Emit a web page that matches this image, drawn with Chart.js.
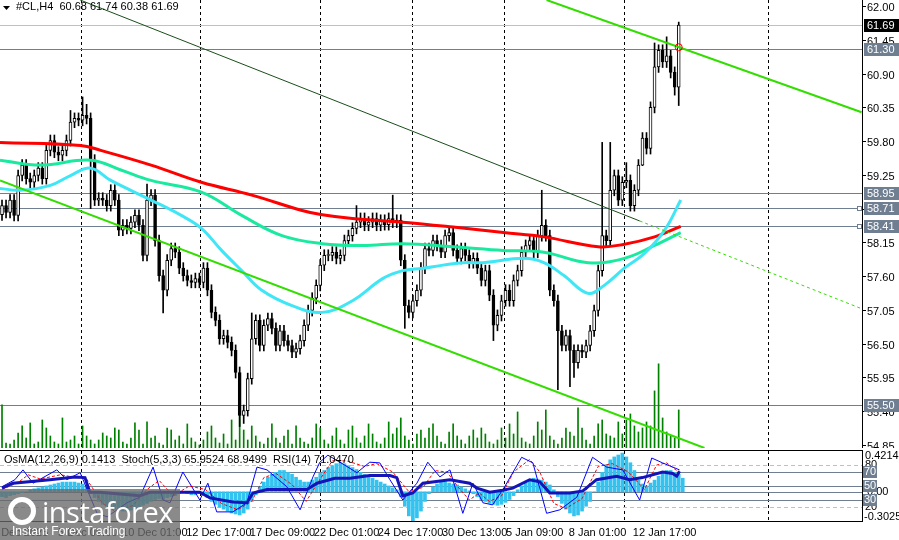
<!DOCTYPE html>
<html>
<head>
<meta charset="utf-8">
<script src="https://cdn.jsdelivr.net/npm/chart.js@4.4.1/dist/chart.umd.min.js"></script>
<style>
  body { margin: 0; background: #fff; width: 899px; height: 540px; overflow: hidden; position: relative; font-family: "Liberation Sans", sans-serif; }
  #mainWrap { position: absolute; left: 0; top: 0; width: 899px; height: 448px; }
  #subWrap { position: absolute; left: 0; top: 449px; width: 899px; height: 91px; }
  #logo { position: absolute; left: 0; top: 489px; width: 180px; height: 51px; background: rgba(105,105,105,0.78); color: #fff; }
  #logo .big { position: absolute; left: 42px; top: 3px; font-size: 29px; letter-spacing: -0.5px; font-family: "Open Sans", sans-serif; }
  #logo .small { position: absolute; left: 12px; top: 35px; font-size: 12px; }
  #logo .gear { position: absolute; left: 8px; top: 8px; width: 28px; height: 28px; border-radius: 50%; border: 5px solid #fff; box-sizing: border-box; }
</style>
</head>
<body>
<div id="mainWrap"><canvas id="mainChart"></canvas></div>
<div id="subWrap"><canvas id="subChart"></canvas></div>
<div id="logo"><div class="gear"></div><div class="big">instaforex</div><div class="small">Instant Forex Trading</div></div>
<script>
// ---- data ----
const firstOpen = 58.60;
const closes = [58.75,58.64,58.84,58.59,59.24,59.41,59.19,59.13,59.24,59.36,59.19,59.65,59.81,59.62,59.57,59.65,59.81,60.11,60.17,60.14,60.22,60.17,59.49,58.84,58.87,58.84,58.75,59.00,58.84,58.35,58.43,58.38,58.48,58.59,58.43,57.94,58.84,58.92,58.18,57.61,57.37,57.86,58.05,57.99,57.73,57.61,57.53,57.50,57.56,57.50,57.73,57.37,57.01,56.88,56.58,56.63,56.52,56.39,56.03,55.33,55.41,55.93,56.58,56.88,56.47,56.80,56.91,56.75,56.47,56.71,56.55,56.47,56.36,56.42,56.55,56.80,57.04,57.24,57.45,57.78,57.94,57.94,57.99,57.89,57.94,58.18,58.26,58.38,58.48,58.54,58.43,58.48,58.54,58.43,58.51,58.44,58.54,58.48,58.51,57.86,57.12,57.01,57.20,57.37,57.73,58.05,58.02,58.18,58.10,57.99,58.26,58.31,58.02,57.89,58.05,57.94,57.82,57.89,57.73,57.53,57.69,57.29,56.80,56.96,57.20,57.37,57.20,57.53,57.69,57.99,58.10,58.18,57.99,58.26,58.43,58.26,57.37,57.20,56.71,56.47,56.63,56.39,56.19,56.39,56.36,56.47,56.71,57.04,57.69,58.26,58.18,59.00,59.24,58.84,59.13,59.16,58.75,59.00,59.41,59.85,59.68,60.35,61.01,61.28,61.09,61.19,60.92,60.68,61.69];
// usual wick length, with the long wicks listed below
const stdWick = 0.09;
const longHighs = { 17: 60.30, 20: 60.52, 21: 60.40, 36: 59.10, 62: 57.00, 88: 58.75, 97: 58.92, 134: 59.00, 149: 59.78, 151: 59.78, 155: 59.45, 162: 61.40, 165: 61.50, 168: 61.74 };
const longLows = { 22: 58.70, 40: 57.00, 59: 55.15, 60: 55.20, 100: 56.75, 122: 56.55, 138: 55.75, 141: 55.80, 142: 55.95, 159: 59.40, 167: 60.55, 168: 60.38 };
const volumes = [43,5,4,8,15,22,10,25,4,6,28,20,12,6,4,30,6,8,12,4,22,12,8,4,8,15,12,10,20,18,6,4,10,25,18,4,26,10,12,5,3,20,18,8,12,4,24,10,6,3,8,16,22,10,5,14,4,28,8,38,18,8,22,12,6,4,10,24,10,5,12,18,4,22,10,6,4,10,24,20,8,4,12,20,8,4,18,22,10,5,12,24,14,6,4,10,26,14,20,30,12,8,4,14,18,10,20,24,12,6,4,16,24,12,8,4,12,18,10,20,14,6,4,8,20,10,24,14,36,10,6,4,12,26,18,38,12,8,4,10,20,16,12,40,20,8,4,12,24,28,14,12,10,26,14,28,34,22,16,20,26,22,57,84,30,16,12,10,38];

// moving averages [bar index, price]
const maRed = [[-0.5,59.78],[19.5,59.73],[24.5,59.65],[37,59.41],[49.5,59.13],[62,58.92],[74.5,58.67],[79.5,58.60],[87,58.54],[99.5,58.48],[112,58.40],[124.5,58.31],[134.5,58.24],[148,58.08],[154.5,58.12],[162,58.24],[168.5,58.41]];
const maTeal = [[-0.5,59.49],[9.5,59.41],[22,59.49],[29.5,59.33],[37,59.16],[49.5,58.97],[59.5,58.59],[69.5,58.26],[79.5,58.13],[89.5,58.10],[99.5,58.13],[112,58.08],[124.5,58.02],[134.5,57.99],[145.5,57.82],[154.5,57.89],[162,58.10],[168.5,58.31]];
const maCyan = [[-0.5,59.03],[4.5,59.00],[12,59.08],[17,59.24],[22,59.36],[27,59.16],[37,58.84],[44.5,58.59],[49.5,58.38],[54.5,58.02],[59.5,57.69],[64.5,57.37],[72,57.12],[79.5,57.01],[87,57.20],[94.5,57.56],[99.5,57.69],[104.5,57.73],[109.5,57.78],[114.5,57.82],[119.5,57.82],[129.5,57.89],[134.5,57.82],[139.5,57.61],[145.5,57.32],[149.5,57.45],[154.5,57.73],[159.5,57.97],[164.5,58.35],[168.5,58.84]];

// channel lines [bar index, price]
const channelUpper = [[135.2,62.10],[213.4,60.27]];
const channelLower = [[-0.5,59.16],[174.4,54.80]];
const thinSolid = [[19.4,62.10],[158.3,58.50]];
const thinDashed = [[158.3,58.50],[213.4,57.07]];

const levels = [61.69, 61.30, 58.95, 58.71, 58.41, 55.50];
const priceTicks = [62.00,61.45,60.90,60.35,59.80,59.25,58.70,58.15,57.60,57.05,56.50,55.95,55.40,54.85];
const separators = [19.6,49.1,78.9,101.7,124.6,154.3,190.1];

const timeLabels = ['2 Dec 2025','5 Dec 09:00','10 Dec 01:00','12 Dec 17:00','17 Dec 09:00','22 Dec 01:00','24 Dec 17:00','30 Dec 13:00','5 Jan 09:00','8 Jan 01:00','12 Jan 17:00'];
const timeLabelIdx = [-1,15.4,31.3,47.2,63,78.9,94.8,110.7,126.6,142.2,158.1];

// oscillators
const osma = [-0.05,-0.06,-0.04,-0.03,-0.02,-0.01,0,0.02,0.03,0.04,0.05,0.06,0.07,0.08,0.09,0.1,0.1,0.1,0.1,0.09,0.08,0.05,-0.02,-0.06,-0.1,-0.13,-0.15,-0.17,-0.18,-0.19,-0.2,-0.2,-0.19,-0.18,-0.16,-0.14,-0.12,-0.1,-0.08,-0.07,-0.08,-0.06,-0.05,-0.04,-0.02,-0.01,-0.02,-0.03,-0.03,-0.02,-0.03,-0.06,-0.1,-0.13,-0.16,-0.18,-0.2,-0.22,-0.23,-0.24,-0.22,-0.18,-0.1,-0.03,0.05,0.1,0.15,0.18,0.2,0.22,0.22,0.2,0.18,0.15,0.12,0.1,0.1,0.12,0.15,0.19,0.22,0.25,0.27,0.29,0.3,0.29,0.27,0.25,0.23,0.2,0.18,0.16,0.14,0.12,0.1,0.08,0.06,0.04,0.02,-0.05,-0.15,-0.25,-0.3,-0.27,-0.2,-0.1,-0.02,0.05,0.08,0.1,0.1,0.09,0.08,0.07,0.05,0.03,0.01,-0.02,-0.05,-0.08,-0.1,-0.12,-0.13,-0.14,-0.13,-0.11,-0.08,-0.04,0.02,0.06,0.1,0.12,0.14,0.13,0.12,0.1,0.07,0.02,-0.05,-0.12,-0.18,-0.22,-0.25,-0.24,-0.2,-0.15,-0.1,0.0,0.1,0.2,0.28,0.33,0.36,0.38,0.4,0.36,0.3,0.22,0.12,0.08,0.06,0.09,0.12,0.16,0.2,0.22,0.22,0.2,0.18,0.14];
const stochMain = [[0,49],[3.2,59],[5.2,73],[7.7,54],[13.6,73],[16.1,59],[19.4,69],[23.6,11],[26.1,6],[31,26],[34.2,34],[37.5,77],[40,30],[41.7,26],[44.9,70],[49.1,30],[51.1,54],[53.3,13],[57.3,13],[60.8,26],[63.3,77],[65.8,73],[70.7,49],[74,16],[77.2,63],[78.9,84],[80.9,94],[83.9,84],[88.1,69],[91.3,84],[93.8,83],[96.3,59],[99.5,30],[103,54],[105.7,84],[108.7,63],[111.2,73],[114.4,11],[116.9,54],[119.4,26],[121.8,23],[124.8,49],[129,91],[131.8,83],[135.2,11],[138.5,16],[142.7,34],[146.6,91],[150.1,77],[154.1,73],[158.3,30],[161.3,90],[164,83],[168.2,73]];
const stochSignal = [[0,45],[4,55],[6.5,66],[9.5,60],[14.5,66],[17.5,63],[21,60],[25,25],[28,14],[32.5,22],[36,45],[39,58],[42.5,36],[46.5,50],[50.5,45],[54.5,25],[58.5,16],[62,28],[65,62],[68,68],[72,52],[75.5,28],[79,60],[82,86],[85.5,86],[90,78],[93,82],[97,70],[101,42],[104.5,48],[107.5,72],[110.5,70],[113,50],[116,30],[118.5,40],[121,28],[124,36],[127,70],[131,88],[133.5,70],[137,25],[140,18],[144,32],[148,78],[151.5,82],[155.5,70],[159.5,45],[162.5,80],[165,83],[168.2,69]];
const rsi = [[0,47],[2.7,54],[11.9,59],[18.1,63],[20.6,62],[21.8,41],[24.3,41],[34.2,36],[36.7,41],[49.1,41],[51.6,33],[57.3,27],[60.8,26],[62.3,40],[65.8,45],[75.7,45],[78.2,54],[82.6,61],[86.4,61],[91.3,65],[96.3,65],[98,62],[99.5,36],[102,40],[104.5,54],[111.2,59],[116.1,54],[117.9,47],[121.1,41],[124.3,44],[126.8,47],[131,59],[133.5,56],[136,40],[141,40],[144.2,43],[147.6,59],[152.6,64],[155.8,59],[159,62],[164,70],[166.5,68],[167.5,64],[168.2,71]];

// ---- build candle datasets ----
const opens = closes.map((c, i) => i === 0 ? firstOpen : closes[i - 1]);
const bodies = [], wicks = [], bodyColors = [], vols = [];
closes.forEach((c, i) => {
    const o = opens[i];
    const hi = longHighs[i] !== undefined ? longHighs[i] : Math.max(o, c) + stdWick;
    const lo = longLows[i] !== undefined ? longLows[i] : Math.min(o, c) - stdWick;
    bodies.push({ x: i, y: [o, c === o ? c + 0.01 : c] });
    wicks.push({ x: i, y: [lo, hi] });
    bodyColors.push(c >= o ? '#ffffff' : '#000000');
});
volumes.forEach((v, i) => vols.push({ x: i, y: v }));
const pts = arr => arr.map(p => ({ x: p[0], y: p[1] }));

const xMin = -0.5, xMax = 213.5;

const separatorPlugin = {
    id: 'separators',
    beforeDatasetsDraw(chart) {
        const { ctx, chartArea: a, scales: { x } } = chart;
        ctx.save();
        ctx.strokeStyle = '#000';
        ctx.lineWidth = 1;
        ctx.setLineDash([3, 3]);
        separators.forEach(s => {
            const px = Math.round(x.getPixelForValue(s)) + 0.5;
            ctx.beginPath(); ctx.moveTo(px, a.top); ctx.lineTo(px, a.bottom); ctx.stroke();
        });
        ctx.restore();
    }
};

const mainPlugin = {
    id: 'mainExtras',
    beforeDatasetsDraw(chart) {
        const { ctx, chartArea: a, scales: { y } } = chart;
        ctx.save();
        ctx.lineWidth = 1;
        levels.forEach((lv, i) => {
            const py = Math.round(y.getPixelForValue(lv)) + 0.5;
            ctx.strokeStyle = i === 0 ? '#c0c0c0' : '#6f7f91';
            ctx.beginPath(); ctx.moveTo(a.left, py); ctx.lineTo(a.right, py); ctx.stroke();
        });
        ctx.restore();
    },
    afterDraw(chart) {
        const { ctx, chartArea: a, scales: { y, x } } = chart;
        ctx.save();
        ctx.strokeStyle = '#000';
        ctx.lineWidth = 1;
        ctx.beginPath();
        ctx.moveTo(a.right + 0.5, a.top); ctx.lineTo(a.right + 0.5, a.bottom + 0.5); ctx.lineTo(a.left, a.bottom + 0.5);
        ctx.stroke();
        // price axis ticks
        ctx.font = '11px "Liberation Sans"';
        ctx.textBaseline = 'middle';
        ctx.fillStyle = '#000';
        priceTicks.forEach(v => {
            const py = Math.round(y.getPixelForValue(v)) + 0.5;
            ctx.beginPath(); ctx.moveTo(a.right, py); ctx.lineTo(a.right + 4, py); ctx.stroke();
            ctx.fillText(v.toFixed(2), a.right + 5, py + 1);
        });
        // price tags
        levels.forEach((lv, i) => {
            const py = Math.round(y.getPixelForValue(lv));
            ctx.fillStyle = i === 0 ? '#000000' : '#6f7f91';
            ctx.fillRect(a.right + 2, py - 6, 35, 13);
            ctx.fillStyle = '#fff';
            ctx.fillText(lv.toFixed(2), a.right + 5, py + 1);
        });
        [58.71, 58.41].forEach(lv => {
            const py = Math.round(y.getPixelForValue(lv)) + 0.5;
            ctx.fillStyle = '#fff'; ctx.strokeStyle = '#6f7f91';
            ctx.fillRect(a.right - 4.5, py - 2, 4, 4); ctx.strokeRect(a.right - 4.5, py - 2, 4, 4);
        });
        // red marker on the last bar
        ctx.strokeStyle = '#ff0000';
        ctx.beginPath(); ctx.arc(x.getPixelForValue(168), y.getPixelForValue(61.33), 3.5, 0, Math.PI * 2); ctx.stroke();
        // header
        ctx.fillStyle = '#000';
        ctx.beginPath(); ctx.moveTo(3, 6); ctx.lineTo(10, 6); ctx.lineTo(6.5, 10); ctx.closePath(); ctx.fill();
        ctx.fillText('#CL,H4  60.68 61.74 60.38 61.69', 16, 7);
        ctx.restore();
    }
};

new Chart(document.getElementById('mainChart').getContext('2d'), {
    type: 'bar',
    data: {
        datasets: [
            { type: 'line', data: pts(channelUpper), borderColor: '#33dd00', borderWidth: 2, pointRadius: 0, order: 1 },
            { type: 'line', data: pts(channelLower), borderColor: '#33dd00', borderWidth: 2, pointRadius: 0, order: 1 },
            { type: 'line', data: pts(thinSolid), borderColor: '#1a4d1a', borderWidth: 1, pointRadius: 0, order: 1 },
            { type: 'line', data: pts(thinDashed), borderColor: '#33dd00', borderWidth: 1, borderDash: [3, 3], pointRadius: 0, order: 1 },
            { type: 'line', data: pts(maCyan), borderColor: '#3fe6f5', borderWidth: 3, pointRadius: 0, tension: 0.4, order: 2 },
            { type: 'line', data: pts(maTeal), borderColor: '#19eaa0', borderWidth: 3, pointRadius: 0, tension: 0.4, order: 2 },
            { type: 'line', data: pts(maRed), borderColor: '#ff0000', borderWidth: 3, pointRadius: 0, tension: 0.4, order: 2 },
            { data: bodies, backgroundColor: bodyColors, borderColor: '#000', borderWidth: 1, borderSkipped: false, barThickness: 3, grouped: false, order: 4 },
            { data: wicks, backgroundColor: '#000', barThickness: 1, grouped: false, order: 5 },
            { data: vols, yAxisID: 'yv', backgroundColor: '#008000', barThickness: 1, grouped: false, order: 6 }
        ]
    },
    options: {
        responsive: true,
        maintainAspectRatio: false,
        animation: false,
        layout: { padding: { top: 0, right: 37, bottom: 0, left: 0 } },
        plugins: { legend: { display: false }, tooltip: { enabled: false } },
        scales: {
            x: { type: 'linear', min: xMin, max: xMax, offset: false, display: false },
            y: { display: false, min: 54.80, max: 62.10 },
            yv: { display: false, min: 0, max: 447 }
        }
    },
    plugins: [separatorPlugin, mainPlugin]
});

const subPlugin = {
    id: 'subExtras',
    beforeDatasetsDraw(chart) {
        const { ctx, chartArea: a, scales: { ys, yo } } = chart;
        ctx.save();
        ctx.lineWidth = 1;
        [[80, true], [70, false], [50, false], [30, false], [20, true]].forEach(([v, dashed]) => {
            const py = Math.round(ys.getPixelForValue(v)) + 0.5;
            ctx.strokeStyle = dashed ? '#c0c0c0' : '#6f7f91';
            ctx.setLineDash(dashed ? [4, 3] : []);
            ctx.beginPath(); ctx.moveTo(a.left, py); ctx.lineTo(a.right, py); ctx.stroke();
        });
        ctx.setLineDash([]);
        const zy = Math.round(yo.getPixelForValue(0)) + 0.5;
        ctx.strokeStyle = '#6f7f91';
        ctx.beginPath(); ctx.moveTo(a.left, zy); ctx.lineTo(a.right, zy); ctx.stroke();
        ctx.restore();
    },
    afterDraw(chart) {
        const { ctx, chartArea: a, scales: { x, ys, yo } } = chart;
        ctx.save();
        ctx.strokeStyle = '#000';
        ctx.lineWidth = 1;
        ctx.strokeRect(a.left - 1, a.top - 0.5, a.right - a.left + 1.5, a.bottom - a.top + 1);
        ctx.font = '11px "Liberation Sans"';
        ctx.textBaseline = 'middle';
        ctx.fillStyle = '#000';
        ctx.fillText('OsMA(12,26,9) 0.1413  Stoch(5,3,3) 65.9524 68.9499  RSI(14) 71.0470', 4, a.top + 9);
        ctx.fillText('0.4214', a.right + 3, yo.getPixelForValue(0.4214) + 5);
        ctx.fillText('-0.3025', a.right + 2, yo.getPixelForValue(-0.3025) - 4);
        ctx.fillText('0.00', a.right + 5, yo.getPixelForValue(0));
        [80, 20].forEach(v => ctx.fillText(String(v), a.right + 3, ys.getPixelForValue(v)));
        [70, 50, 30].forEach(v => {
            const py = ys.getPixelForValue(v);
            ctx.fillStyle = '#6f7f91'; ctx.fillRect(a.right + 1, py - 6, 14, 12);
            ctx.fillStyle = '#fff'; ctx.fillText(String(v), a.right + 2, py);
            ctx.fillStyle = '#000';
        });
        ctx.textBaseline = 'alphabetic';
        timeLabels.forEach((t, i) => {
            const px = x.getPixelForValue(timeLabelIdx[i]);
            ctx.fillText(t, px - 6, a.bottom + 15);
        });
        ctx.restore();
    }
};

new Chart(document.getElementById('subChart').getContext('2d'), {
    type: 'bar',
    data: {
        datasets: [
            { type: 'line', data: pts(rsi), yAxisID: 'ys', borderColor: '#1414b8', borderWidth: 3, pointRadius: 0, order: 1 },
            { type: 'line', data: pts(stochMain), yAxisID: 'ys', borderColor: '#0000ff', borderWidth: 1, pointRadius: 0, order: 2 },
            { type: 'line', data: pts(stochSignal), yAxisID: 'ys', borderColor: '#ff0000', borderWidth: 1, borderDash: [3, 2], pointRadius: 0, order: 2 },
            { data: osma.map((v, i) => ({ x: i, y: v })), yAxisID: 'yo', backgroundColor: '#33c3f0', barThickness: 3, order: 3 }
        ]
    },
    options: {
        responsive: true,
        maintainAspectRatio: false,
        animation: false,
        layout: { padding: { top: 2, right: 37, bottom: 19, left: 0 } },
        plugins: { legend: { display: false }, tooltip: { enabled: false } },
        scales: {
            x: { type: 'linear', min: xMin, max: xMax, offset: false, display: false },
            yo: { display: false, min: -0.3025, max: 0.4214 },
            ys: { display: false, min: 0, max: 100 }
        }
    },
    plugins: [separatorPlugin, subPlugin]
});
</script>
</body>
</html>
